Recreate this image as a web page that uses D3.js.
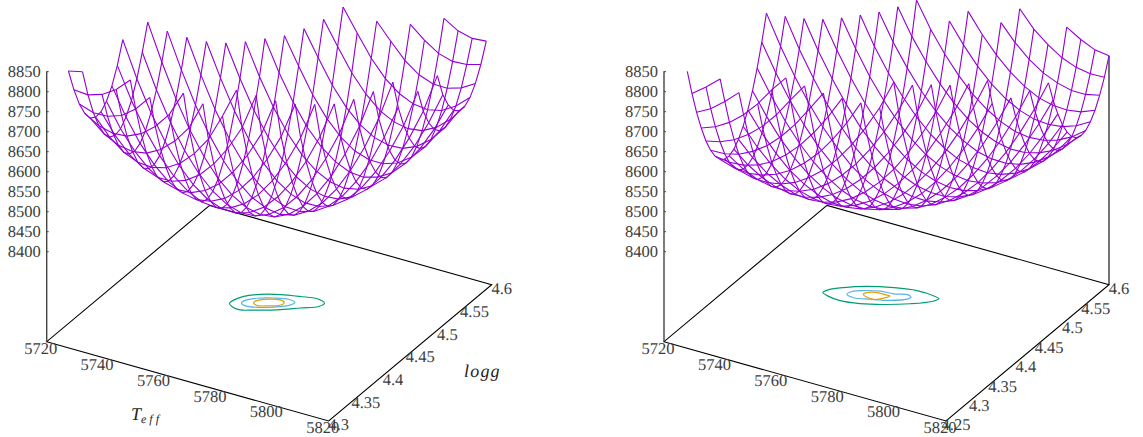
<!DOCTYPE html>
<html>
<head>
<meta charset="utf-8">
<script src="https://d3js.org/d3.v7.min.js"></script>
<style>
    html, body { margin: 0; padding: 0; background: #fff; }
    svg { display: block; }
    text { font-family: "Liberation Serif", serif; text-rendering: geometricPrecision; }
    .tick-label { font-size: 16.5px; fill: #3c3c3c; }
    .axis-title { font-size: 18px; font-style: italic; fill: #222; }
</style>
</head>
<body>
<div id="chart"></div>
<script>
// Grid positions of the surface
const teffGrid = [5720, 5725, 5730, 5735, 5740, 5745, 5750, 5755, 5760, 5765, 5770, 5775, 5780, 5785, 5790, 5795, 5800, 5805, 5810, 5815, 5820];
const loggGridA = [4.30, 4.31, 4.32, 4.33, 4.34, 4.35, 4.36, 4.37, 4.38, 4.39, 4.40, 4.41, 4.42, 4.43, 4.44, 4.45, 4.46, 4.47, 4.48, 4.49, 4.50, 4.51, 4.52, 4.53, 4.54, 4.55, 4.56, 4.57, 4.58, 4.59];
const loggGridB = [4.25, 4.26, 4.27, 4.28, 4.29, 4.30, 4.31, 4.32, 4.33, 4.34, 4.35, 4.36, 4.37, 4.38, 4.39, 4.40, 4.41, 4.42, 4.43, 4.44, 4.45, 4.46, 4.47, 4.48, 4.49, 4.50, 4.51, 4.52, 4.53, 4.54, 4.55, 4.56, 4.57, 4.58, 4.59, 4.60];

// Tick labels
const teffTicks = [5720, 5740, 5760, 5780, 5800, 5820];
const zTicks = [8400, 8450, 8500, 8550, 8600, 8650, 8700, 8750, 8800, 8850];
const loggTicksA = [4.3, 4.35, 4.4, 4.45, 4.5, 4.55, 4.6];
const loggTicksB = [4.25, 4.3, 4.35, 4.4, 4.45, 4.5, 4.55, 4.6];

// Left surface: index of the first logg in each Teff column, then the column values
const firstLoggA = [4, 4, 5, 5, 5, 6, 7, 7, 8, 9, 9, 10, 11, 12, 13, 14, 15, 16, 17, 19, 20];
const surfaceA = [
    [8805, 8747, 8700, 8665, 8642, 8633, 8635, 8650, 8677, 8717, 8770],
    [8813, 8744, 8688, 8644, 8612, 8593, 8586, 8591, 8609, 8639, 8682, 8737, 8801],
    [8755, 8689, 8635, 8594, 8565, 8549, 8545, 8553, 8574, 8607, 8653, 8711, 8777],
    [8777, 8701, 8638, 8588, 8550, 8524, 8511, 8510, 8521, 8545, 8581, 8629, 8690, 8760],
    [8811, 8727, 8654, 8594, 8547, 8511, 8489, 8478, 8480, 8495, 8521, 8560, 8612, 8676, 8748],
    [8766, 8682, 8613, 8556, 8511, 8479, 8459, 8452, 8457, 8474, 8504, 8546, 8600, 8667, 8743],
    [8722, 8644, 8577, 8523, 8481, 8452, 8435, 8431, 8439, 8459, 8492, 8537, 8594, 8664, 8745],
    [8785, 8687, 8611, 8547, 8496, 8458, 8431, 8417, 8416, 8427, 8450, 8486, 8534, 8594, 8667, 8751],
    [8757, 8657, 8584, 8523, 8475, 8440, 8416, 8405, 8407, 8421, 8447, 8486, 8537, 8600, 8676, 8757],
    [8725, 8633, 8563, 8505, 8460, 8427, 8407, 8399, 8404, 8420, 8450, 8491, 8545, 8612, 8691, 8773],
    [8800, 8694, 8614, 8547, 8493, 8450, 8421, 8403, 8398, 8406, 8426, 8458, 8502, 8559, 8629, 8711, 8795],
    [8785, 8678, 8602, 8538, 8486, 8447, 8420, 8406, 8404, 8414, 8437, 8472, 8520, 8580, 8652, 8737, 8824],
    [8770, 8669, 8595, 8534, 8486, 8449, 8426, 8414, 8415, 8429, 8454, 8493, 8543, 8606, 8681, 8769],
    [8760, 8665, 8594, 8536, 8491, 8457, 8436, 8428, 8432, 8448, 8477, 8518, 8572, 8638, 8716, 8797],
    [8758, 8667, 8599, 8544, 8501, 8471, 8453, 8448, 8455, 8474, 8506, 8550, 8606, 8675, 8757],
    [8758, 8674, 8610, 8558, 8518, 8491, 8476, 8474, 8484, 8506, 8541, 8588, 8647, 8719, 8798],
    [8768, 8688, 8626, 8577, 8541, 8516, 8504, 8505, 8518, 8543, 8581, 8631, 8693, 8768],
    [8786, 8707, 8649, 8603, 8569, 8548, 8539, 8542, 8558, 8586, 8627, 8680, 8745, 8821],
    [8808, 8733, 8677, 8634, 8603, 8585, 8579, 8585, 8604, 8635, 8679, 8735, 8800],
    [8772, 8711, 8671, 8643, 8628, 8625, 8634, 8656, 8690, 8737, 8791],
    [8810, 8751, 8714, 8689, 8677, 8676, 8687, 8711, 8747, 8794]
];

// Right surface
const firstLoggB = [5, 6, 6, 7, 8, 8, 8, 9, 10, 11, 12, 13, 13, 14, 15, 16, 17, 18, 20, 21, 22];
const surfaceB = [
    [8801, 8736, 8679, 8630, 8588, 8555, 8530, 8513, 8504, 8502, 8509, 8524, 8547, 8578, 8616, 8663, 8718, 8781],
    [8762, 8698, 8643, 8596, 8556, 8525, 8502, 8486, 8479, 8480, 8488, 8505, 8530, 8562, 8603, 8651, 8708, 8773],
    [8792, 8726, 8664, 8611, 8565, 8528, 8498, 8477, 8463, 8458, 8460, 8471, 8489, 8515, 8550, 8592, 8643, 8701, 8768],
    [8758, 8693, 8634, 8582, 8538, 8503, 8475, 8455, 8444, 8440, 8444, 8456, 8477, 8505, 8541, 8586, 8638, 8698, 8766],
    [8730, 8664, 8606, 8556, 8515, 8481, 8455, 8437, 8427, 8425, 8432, 8446, 8468, 8498, 8536, 8582, 8637, 8699, 8770],
    [8775, 8703, 8639, 8583, 8535, 8495, 8463, 8439, 8423, 8415, 8415, 8423, 8439, 8463, 8495, 8535, 8583, 8639, 8703, 8777],
    [8815, 8750, 8679, 8617, 8563, 8517, 8478, 8448, 8426, 8412, 8405, 8407, 8417, 8435, 8460, 8494, 8536, 8586, 8643, 8709, 8785],
    [8795, 8727, 8659, 8598, 8546, 8502, 8465, 8437, 8416, 8404, 8400, 8403, 8415, 8434, 8462, 8498, 8541, 8593, 8652, 8720, 8798],
    [8777, 8708, 8642, 8583, 8533, 8490, 8455, 8429, 8410, 8400, 8397, 8403, 8416, 8437, 8467, 8504, 8550, 8603, 8665, 8734, 8815],
    [8764, 8693, 8628, 8571, 8523, 8482, 8449, 8424, 8408, 8399, 8398, 8406, 8421, 8444, 8475, 8515, 8562, 8617, 8681, 8752],
    [8753, 8681, 8618, 8563, 8516, 8477, 8446, 8424, 8409, 8402, 8403, 8412, 8429, 8454, 8487, 8528, 8578, 8635, 8700, 8773],
    [8741, 8672, 8611, 8558, 8513, 8476, 8447, 8426, 8413, 8408, 8411, 8422, 8441, 8468, 8503, 8546, 8597, 8656, 8723, 8797],
    [8815, 8734, 8667, 8608, 8557, 8514, 8478, 8451, 8432, 8421, 8418, 8422, 8435, 8456, 8485, 8522, 8566, 8619, 8680, 8749],
    [8808, 8731, 8666, 8608, 8559, 8518, 8484, 8459, 8442, 8432, 8431, 8437, 8452, 8475, 8505, 8544, 8591, 8645, 8708, 8779],
    [8809, 8731, 8668, 8612, 8565, 8525, 8493, 8470, 8454, 8447, 8447, 8456, 8472, 8497, 8529, 8570, 8618, 8675, 8739, 8814],
    [8808, 8735, 8673, 8620, 8574, 8536, 8506, 8485, 8471, 8465, 8467, 8478, 8496, 8522, 8556, 8599, 8649, 8707, 8773],
    [8812, 8742, 8682, 8630, 8586, 8551, 8523, 8503, 8491, 8487, 8491, 8503, 8523, 8551, 8587, 8631, 8683, 8744],
    [8820, 8753, 8695, 8644, 8602, 8568, 8542, 8524, 8514, 8512, 8518, 8532, 8554, 8584, 8622, 8668, 8721, 8788],
    [8767, 8710, 8662, 8622, 8589, 8565, 8549, 8541, 8541, 8548, 8564, 8588, 8620, 8659, 8707, 8767],
    [8785, 8729, 8683, 8645, 8614, 8592, 8577, 8571, 8573, 8582, 8600, 8625, 8659, 8701, 8751],
    [8805, 8752, 8708, 8671, 8643, 8622, 8609, 8605, 8608, 8620, 8639, 8667, 8702, 8746]
];

// Contours on the base plane, as [Teff, logg]
const contourGreenA = [[5756.3, 4.448], [5756.4, 4.455], [5757.9, 4.466], [5761.7, 4.477], [5767.1, 4.486], [5773, 4.492], [5778.2, 4.496], [5781.5, 4.492], [5781, 4.484], [5776.6, 4.473], [5771, 4.459], [5764.9, 4.448], [5761.3, 4.442], [5758.5, 4.443]];
const contourBlueA = [[5759.4, 4.454], [5759.5, 4.46], [5762, 4.469], [5766.3, 4.477], [5770.7, 4.482], [5773.3, 4.48], [5773, 4.473], [5769.2, 4.462], [5764.9, 4.454], [5761.4, 4.451]];
const contourOrangeA = [[5762.5, 4.46], [5762.7, 4.465], [5765.4, 4.473], [5768.7, 4.477], [5770.5, 4.475], [5770.6, 4.469], [5767.5, 4.462], [5764.3, 4.457]];

const contourGreenB = [[5746.5, 4.4305], [5747.2, 4.439], [5750.4, 4.451], [5756.3, 4.466], [5763.8, 4.478], [5770.9, 4.485], [5776.9, 4.484], [5779.3, 4.481], [5778.3, 4.472], [5773.3, 4.456], [5766.4, 4.44], [5759.9, 4.429], [5753.7, 4.424], [5749.3, 4.426]];
const contourBlueB = [[5753.5, 4.44], [5753.9, 4.448], [5757.1, 4.457], [5761.4, 4.464], [5765.7, 4.466], [5770, 4.472], [5771.4, 4.469], [5771, 4.463], [5766.9, 4.4515], [5761.2, 4.443], [5756.4, 4.437]];
const contourOrangeB = [[5757.8, 4.449], [5758.2, 4.454], [5760.4, 4.459], [5763.8, 4.46], [5765.5, 4.46], [5764.6, 4.453], [5762.6, 4.445], [5759.8, 4.445]];

const width = 1143;
const height = 437;

const colors = { surface: '#9400d3', green: '#009e73', blue: '#56b4e9', orange: '#e69f00' };

const svg = d3.select('#chart')
    .append('svg')
    .attr('width', width)
    .attr('height', height);

function drawPanel(p) {
    const g = svg.append('g').attr('transform', `translate(${p.originX},${p.originY})`);
    const loggEnds = [p.loggMin, 4.6];

    // Oblique projection: each data axis adds its own screen offset
    const teffX = d3.scaleLinear().domain([5720, 5820]).range([0, 282]);
    const teffY = d3.scaleLinear().domain([5720, 5820]).range([0, 79.3]);
    const loggX = d3.scaleLinear().domain(loggEnds).range([0, 163]);
    const loggY = d3.scaleLinear().domain(loggEnds).range([0, -136.3]);
    const zY = d3.scaleLinear().domain([8400, 8850]).range([-90.5, -270.5]);
    const zBase = zY.invert(0);

    const baseX = (t, l) => teffX(t) + loggX(l);
    const baseY = (t, l) => teffY(t) + loggY(l);

    // Base plane
    const corners = [[5720, loggEnds[0]], [5820, loggEnds[0]], [5820, 4.6], [5720, 4.6]];
    g.append('path')
        .attr('d', d3.line().x(d => baseX(d[0], d[1])).y(d => baseY(d[0], d[1])).curve(d3.curveLinearClosed)(corners))
        .attr('fill', 'none')
        .attr('stroke', '#000')
        .attr('stroke-width', 1.1);

    // Back vertical edge of the right panel
    if (p.backEdgeTop) {
        g.append('line')
            .attr('x1', baseX(5820, 4.6))
            .attr('x2', baseX(5820, 4.6))
            .attr('y1', baseY(5820, 4.6))
            .attr('y2', baseY(5820, 4.6) + zY(p.backEdgeTop) - zY(zBase))
            .attr('stroke', '#000')
            .attr('stroke-width', 1.1);
    }

    // Z axis
    g.append('line')
        .attr('y1', 0)
        .attr('y2', zY(8850))
        .attr('stroke', '#444')
        .attr('stroke-width', 1.4);

    const zAxis = g.append('g')
        .call(d3.axisRight(zY).tickValues(zTicks).tickSize(2).tickFormat(d3.format('d')));
    zAxis.select('.domain').remove();
    zAxis.selectAll('line').attr('stroke', '#444');
    zAxis.selectAll('text')
        .attr('class', 'tick-label')
        .attr('x', -6)
        .attr('text-anchor', 'end')
        .attr('fill', null);
    zAxis.attr('font-family', null).attr('font-size', null);

    // Contours
    const contourLine = d3.line()
        .x(d => baseX(d[0], d[1]))
        .y(d => baseY(d[0], d[1]))
        .curve(d3.curveCatmullRomClosed);
    p.contours.forEach(c => {
        g.append('path')
            .attr('d', contourLine(c.points))
            .attr('fill', 'none')
            .attr('stroke', c.color)
            .attr('stroke-width', 1.2);
    });

    // Surface wireframe
    const surfaceLine = d3.line()
        .x(d => baseX(d.teff, d.logg))
        .y(d => baseY(d.teff, d.logg) + zY(d.z) - zY(zBase));

    const rowMap = new Map();
    p.surface.forEach((column, i) => {
        const points = column.map((z, k) => ({ teff: teffGrid[i], logg: p.loggGrid[p.first[i] + k], z: z, j: p.first[i] + k }));
        points.forEach(pt => {
            if (!rowMap.has(pt.j)) rowMap.set(pt.j, []);
            rowMap.get(pt.j).push(pt);
        });
        g.append('path')
            .attr('d', surfaceLine(points))
            .attr('fill', 'none')
            .attr('stroke', colors.surface)
            .attr('stroke-width', 1.1);
    });
    rowMap.forEach(points => {
        g.append('path')
            .attr('d', surfaceLine(points))
            .attr('fill', 'none')
            .attr('stroke', colors.surface)
            .attr('stroke-width', 1.1);
    });

    // Teff and logg tick labels
    g.selectAll('.teff-label')
        .data(teffTicks)
        .enter()
        .append('text')
        .attr('class', 'tick-label')
        .attr('x', d => baseX(d, loggEnds[0]) - 6)
        .attr('y', d => baseY(d, loggEnds[0]) + 6.5)
        .attr('dy', '0.35em')
        .attr('text-anchor', 'middle')
        .text(d => d);

    g.selectAll('.logg-label')
        .data(p.loggTicks)
        .enter()
        .append('text')
        .attr('class', 'tick-label')
        .attr('x', d => baseX(5820, d) + 10)
        .attr('y', d => baseY(5820, d) + 3.7)
        .attr('dy', '0.35em')
        .attr('text-anchor', 'middle')
        .text(d => d);
}

drawPanel({
    originX: 46.7,
    originY: 341.7,
    loggMin: 4.3,
    loggGrid: loggGridA,
    loggTicks: loggTicksA,
    first: firstLoggA,
    surface: surfaceA,
    contours: [
        { points: contourGreenA, color: colors.green },
        { points: contourBlueA, color: colors.blue },
        { points: contourOrangeA, color: colors.orange }
    ]
});

drawPanel({
    originX: 664,
    originY: 341.7,
    loggMin: 4.25,
    loggGrid: loggGridB,
    loggTicks: loggTicksB,
    first: firstLoggB,
    surface: surfaceB,
    backEdgeTop: 8746,
    contours: [
        { points: contourGreenB, color: colors.green },
        { points: contourBlueB, color: colors.blue },
        { points: contourOrangeB, color: colors.orange }
    ]
});

// Axis titles of the left panel
const teffTitle = svg.append('text')
    .attr('class', 'axis-title')
    .attr('x', 131)
    .attr('y', 420);
teffTitle.append('tspan').text('T');
teffTitle.append('tspan')
    .attr('dy', 3)
    .attr('dx', 0)
    .style('font-size', '12px')
    .style('letter-spacing', '3px')
    .text('eff');

svg.append('text')
    .attr('class', 'axis-title')
    .attr('x', 464)
    .attr('y', 377)
    .style('letter-spacing', '1.2px')
    .text('logg');
</script>
</body>
</html>
